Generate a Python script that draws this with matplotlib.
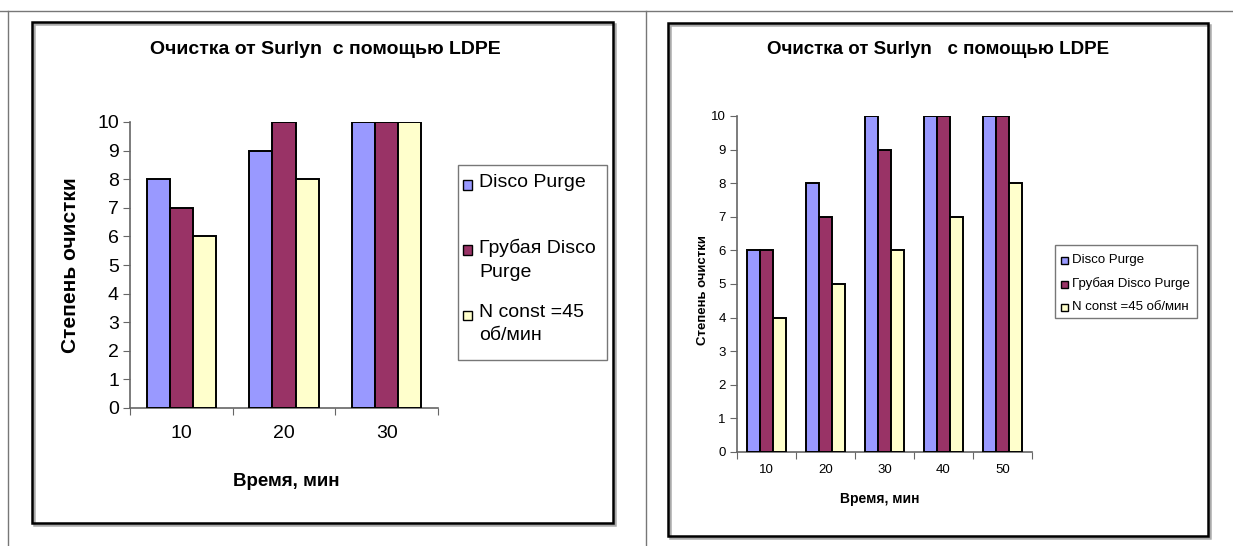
import matplotlib
matplotlib.use("Agg")
import matplotlib.pyplot as plt
from matplotlib.lines import Line2D
from matplotlib.patches import Rectangle
import numpy as np

plt.rcParams["font.family"] = ["Liberation Sans", "DejaVu Sans"]

W, H = 1233, 546

series_names = ["Disco Purge", "Грубая Disco Purge", "N const =45 об/мин"]
legend_left = ["Disco Purge", "Грубая Disco\nPurge", "N const =45\nоб/мин"]
colors = ["#9999FF", "#993366", "#FFFFCC"]

title = "Очистка от Surlyn  с помощью LDPE"
title_right = "Очистка от Surlyn   с помощью LDPE"
xlabel = "Время, мин"
ylabel = "Степень очистки"

# left chart
times_left = ["10", "20", "30"]
disco_left = [8, 9, 10]
rough_left = [7, 10, 10]
nconst_left = [6, 8, 10]

# right chart
times_right = ["10", "20", "30", "40", "50"]
disco_right = [6, 8, 10, 10, 10]
rough_right = [6, 7, 9, 10, 10]
nconst_right = [4, 5, 6, 7, 8]


def fx(px):
    return px / W


def fy(py):
    return 1 - py / H


def fig_line(fig, x0, y0, x1, y1, **kw):
    fig.add_artist(Line2D([fx(x0), fx(x1)], [fy(y0), fy(y1)],
                          transform=fig.transFigure, **kw))


def fig_box(fig, x0, y0, x1, y1, lw=1.8, ec="black"):
    # light shadow then the frame itself
    fig.add_artist(Rectangle((fx(x0 + 1.5), fy(y1 + 1.5)), fx(x1 - x0), (y1 - y0) / H,
                             transform=fig.transFigure, fill=False, ec="#aaaaaa", lw=lw))
    fig.add_artist(Rectangle((fx(x0), fy(y1)), fx(x1 - x0), (y1 - y0) / H,
                             transform=fig.transFigure, fill=False, ec=ec, lw=lw))


def draw_bars(ax, cats, values, width, tick_size):
    x = np.arange(len(cats))
    for i, (vals, c) in enumerate(zip(values, colors)):
        ax.bar(x + (i - 1) * width, vals, width, color=c, edgecolor="black",
               linewidth=1.4, zorder=3)
    ax.set_xlim(-0.5, len(cats) - 0.5)
    ax.set_ylim(0, 10)
    ax.set_yticks(range(0, 11))
    ax.set_xticks(np.arange(len(cats) + 1) - 0.5)
    ax.set_xticklabels([])
    ax.set_xticks(x, minor=True)
    ax.set_xticklabels(cats, minor=True, fontsize=tick_size)
    ax.tick_params(axis="x", which="minor", length=0, pad=tick_size * 0.9)
    ax.tick_params(axis="x", which="major", direction="out", length=5, color="#666666")
    ax.tick_params(axis="y", direction="out", length=5, color="#666666",
                   labelsize=tick_size, pad=3)
    for s in ["top", "right"]:
        ax.spines[s].set_visible(False)
    for s in ["left", "bottom"]:
        ax.spines[s].set_color("#666666")
        ax.spines[s].set_linewidth(1.2)


fig = plt.figure(figsize=(W / 100, H / 100), dpi=100)

# document table lines
fig_line(fig, 0, 11, W, 11, color="#777777", lw=1.0)
fig_line(fig, 8, 11, 8, H, color="#777777", lw=1.0)
fig_line(fig, 646, 11, 646, H, color="#777777", lw=1.0)

# chart frames
fig_box(fig, 32, 22, 613, 523)
fig_box(fig, 668, 23, 1208, 536)

# left chart
ax1 = fig.add_axes([fx(130), fy(408), (438 - 130) / W, (408 - 122) / H])
draw_bars(ax1, times_left, [disco_left, rough_left, nconst_left], 0.225, 14)
fig.text(fx(325), fy(50), title, ha="center", va="center", fontsize=14, fontweight="bold")
fig.text(fx(70), fy(265), ylabel, ha="center", va="center", rotation=90,
         fontsize=15, fontweight="bold")
fig.text(fx(286), fy(481), xlabel, ha="center", va="center", fontsize=13.5, fontweight="bold")

fig.add_artist(Rectangle((fx(458), fy(360)), fx(607 - 458), (360 - 165) / H,
                         transform=fig.transFigure, fill=False, ec="#777777", lw=1.0))
first_lines = [185, 250, 315]
for name, c, yc in zip(legend_left, colors, first_lines):
    fig.add_artist(Rectangle((fx(463), fy(yc + 4.5)), fx(9), 9 / H,
                             transform=fig.transFigure, fc=c, ec="black", lw=1.0))
    fig.text(fx(479), fy(yc - 11), name, ha="left", va="top", fontsize=14, linespacing=1.5)

# right chart
ax2 = fig.add_axes([fx(737), fy(452), (1032 - 737) / W, (452 - 116) / H])
draw_bars(ax2, times_right, [disco_right, rough_right, nconst_right], 0.22, 9.5)
fig.text(fx(938), fy(50), title_right, ha="center", va="center", fontsize=13.5, fontweight="bold")
fig.text(fx(703), fy(290), ylabel, ha="center", va="center", rotation=90,
         fontsize=9.5, fontweight="bold")
fig.text(fx(880), fy(499), xlabel, ha="center", va="center", fontsize=10, fontweight="bold")

fig.add_artist(Rectangle((fx(1055), fy(318)), fx(1197 - 1055), (318 - 245) / H,
                         transform=fig.transFigure, fill=False, ec="#777777", lw=1.0))
for name, c, yc in zip(series_names, colors, [260, 284, 307]):
    fig.add_artist(Rectangle((fx(1061), fy(yc + 3.5)), fx(7), 7 / H,
                             transform=fig.transFigure, fc=c, ec="black", lw=1.0))
    fig.text(fx(1072), fy(yc), name, ha="left", va="center", fontsize=9.5)

fig.savefig("out.png", dpi=100)
